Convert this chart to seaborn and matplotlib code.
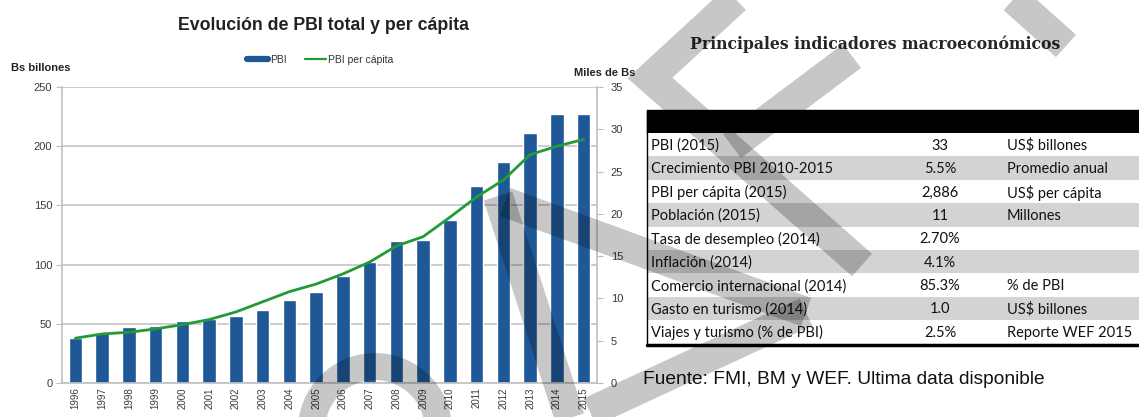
import matplotlib
matplotlib.use("Agg")
import matplotlib.pyplot as plt
from matplotlib.lines import Line2D
from matplotlib.patches import Rectangle, Wedge
import numpy as np
import pandas as pd
import seaborn as sns

# chart data
years = ["1996", "1997", "1998", "1999", "2000", "2001", "2002", "2003", "2004", "2005",
         "2006", "2007", "2008", "2009", "2010", "2011", "2012", "2013", "2014", "2015"]
pbi = [38, 42, 47, 48, 52, 54, 57, 62, 70, 77, 90, 102, 120, 121, 138, 166, 187, 211, 227, 227]
pbi_pc = [5.3, 5.8, 6.0, 6.4, 6.9, 7.5, 8.4, 9.6, 10.8, 11.7, 12.9, 14.3, 16.2, 17.3,
          19.6, 22.0, 24.0, 27.0, 28.0, 28.8]
left_ticks = [0, 50, 100, 150, 200, 250]
right_ticks = [0, 5, 10, 15, 20, 25, 30, 35]

# table data
ind_names = ["PBI (2015)", "Crecimiento PBI 2010-2015", "PBI per cápita (2015)",
             "Población (2015)", "Tasa de desempleo (2014)", "Inflación (2014)",
             "Comercio internacional (2014)", "Gasto en turismo (2014)",
             "Viajes y turismo (% de PBI)"]
ind_values = ["33", "5.5%", "2,886", "11", "2.70%", "4.1%", "85.3%", "1.0", "2.5%"]
ind_units = ["US$ billones", "Promedio anual", "US$ per cápita", "Millones", "", "",
             "% de PBI", "US$ billones", "Reporte WEF 2015"]

df = pd.DataFrame({"year": years, "pbi": pbi, "pbi_pc": pbi_pc})

W, H = 1139, 417
sns.set_style("white")
plt.rcParams["font.family"] = ["Liberation Sans", "DejaVu Sans"]

fig = plt.figure(figsize=(W / 100, H / 100), dpi=100)

# main chart, placed where the reference has it (pixels)
ax = fig.add_axes([62 / W, 1 - 383 / H, (597 - 62) / W, (383 - 87) / H])
sns.barplot(data=df, x="year", y="pbi", color="#1f5896", saturation=1, width=0.5, ax=ax, zorder=2)
ax.set_xlim(-0.5, len(years) - 0.5)
ax.set_ylim(0, 250)
ax.set_yticks(left_ticks)
ax.set_xlabel("")
ax.set_ylabel("")
ax.yaxis.grid(True, color="#c8c8c8", lw=1.3, zorder=0)
ax.set_axisbelow(True)
ax.tick_params(axis="y", length=4, color="#bdbdbd", labelsize=8, labelcolor="#3a3a3a", pad=3)
ax.tick_params(axis="x", length=0, labelsize=7, labelcolor="#3a3a3a", labelrotation=90, pad=3)
ax.set_xticks(np.arange(len(years) + 1) - 0.5, minor=True)
ax.tick_params(axis="x", which="minor", length=3, color="#bdbdbd")
for s in ["left", "bottom", "right"]:
    ax.spines[s].set_color("#c0c0c0")
    ax.spines[s].set_linewidth(1.2)
ax.spines["top"].set_visible(False)

ax2 = ax.twinx()
sns.lineplot(x=np.arange(len(years)), y=df["pbi_pc"], color="#229a35", lw=2, ax=ax2, zorder=3)
ax2.set_ylim(0, 35)
ax2.set_yticks(right_ticks)
ax2.set_ylabel("")
ax2.tick_params(axis="y", length=4, color="#bdbdbd", labelsize=8, labelcolor="#3a3a3a", pad=6)
for s in ax2.spines.values():
    s.set_visible(False)

fig.text(324 / W, 1 - 26 / H, "Evolución de PBI total y per cápita", ha="center", va="center",
         fontsize=12.8, fontweight="bold", color="#222222")
fig.text(11 / W, 1 - 68 / H, "Bs billones", ha="left", va="center", fontsize=8,
         fontweight="bold", color="#222222")
fig.text(605 / W, 1 - 73 / H, "Miles de Bs", ha="center", va="center", fontsize=8,
         fontweight="bold", color="#222222")
handles = [Line2D([], [], color="#1f5896", lw=4.5), Line2D([], [], color="#229a35", lw=1.6)]
fig.legend(handles, ["PBI", "PBI per cápita"], loc="center", bbox_to_anchor=(320 / W, 1 - 60 / H),
           ncol=2, frameon=False, fontsize=7.5, handlelength=2, handletextpad=0.2,
           columnspacing=1.8, labelcolor="#333333")

# right panel: title, table and source, in pixel coordinates
tab = fig.add_axes([0, 0, 1, 1], facecolor="none")
tab.set_xlim(0, W)
tab.set_ylim(H, 0)
tab.axis("off")

fig.text(875 / W, 1 - 44 / H, "Principales indicadores macroeconómicos", ha="center",
         va="center", fontsize=11.3, fontweight="bold", family="DejaVu Serif")

x0, top, head_h, row_h = 647, 110, 23, 23.4
tab.add_patch(Rectangle((x0, top), W - x0 + 5, head_h, color="black"))
for i, (name, val, unit) in enumerate(zip(ind_names, ind_values, ind_units)):
    y = top + head_h + i * row_h
    tab.add_patch(Rectangle((x0, y), W - x0 + 5, row_h,
                            color="#d3d3d3" if i % 2 else "white", lw=0))
    yc = y + row_h / 2 + 1
    tab.text(x0 + 4, yc, name, ha="left", va="center", fontsize=10.5, family="Lato", color="#111111")
    tab.text(940, yc, val, ha="center", va="center", fontsize=10.5, family="Lato", color="#111111")
    tab.text(1007, yc, unit, ha="left", va="center", fontsize=10.5, family="Lato", color="#111111")
bottom = top + head_h + len(ind_names) * row_h
tab.plot([x0, W + 5], [bottom + 1.5, bottom + 1.5], color="black", lw=2.5)
tab.plot([x0, x0], [top, bottom + 2], color="black", lw=1)

fig.text(643 / W, 1 - 380 / H, "Fuente: FMI, BM y WEF. Ultima data disponible", ha="left",
         va="center", fontsize=13.8, color="#111111")

# gray watermark strokes over everything
wm = fig.add_axes([0, 0, 1, 1], facecolor="none", zorder=10)
wm.set_xlim(0, W)
wm.set_ylim(H, 0)
wm.axis("off")
strokes = [
    ([740, 650, 862], [-5, 78, 265]),
    ([852, 732], [56, 146]),
    ([1008, 1066], [-6, 46]),
    ([498, 572], [196, 425]),
    ([505, 806], [202, 312]),
    ([590, 806], [412, 312]),
]
for xs, ys in strokes:
    wm.plot(xs, ys, color="black", alpha=0.22, lw=30 * 0.72, solid_capstyle="butt",
            solid_joinstyle="miter")
wm.add_patch(Wedge((375, 430), 77, 180, 360, width=27, color="black", alpha=0.22, lw=0))

fig.savefig("out.png", dpi=100)
